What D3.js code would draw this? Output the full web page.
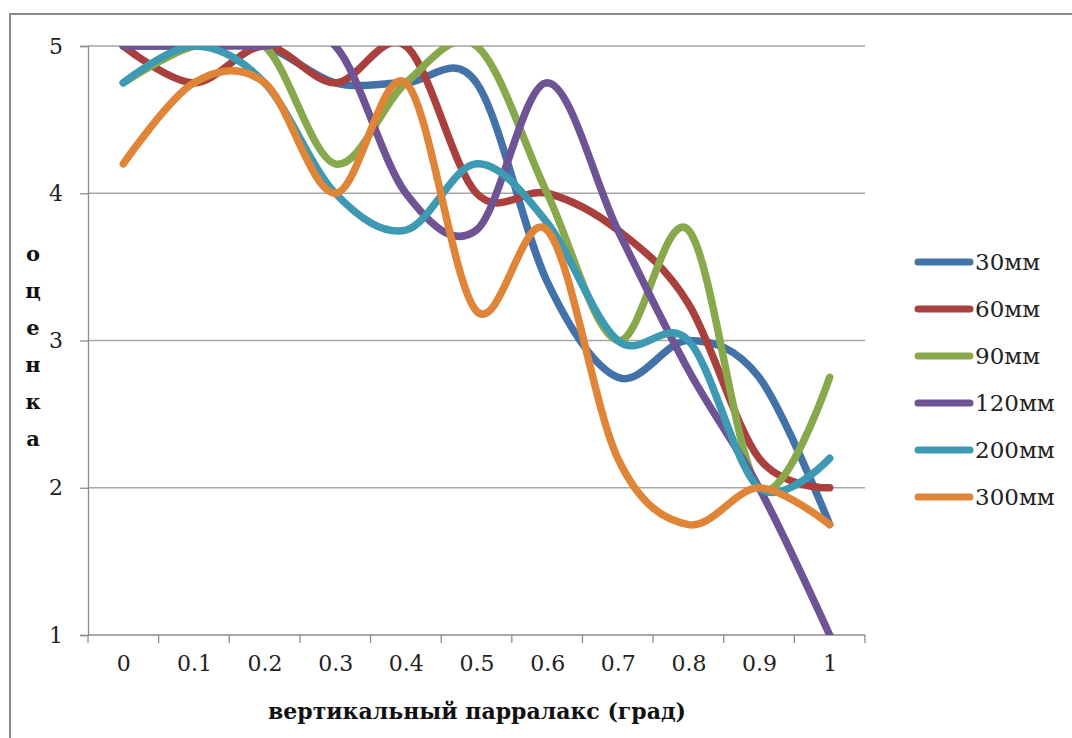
<!DOCTYPE html>
<html>
<head>
<meta charset="utf-8">
<script src="https://cdn.jsdelivr.net/npm/d3@7"></script>
<style>
  html, body { margin: 0; padding: 0; background: #fff; }
  svg { display: block; }
</style>
</head>
<body>
<svg id="chart" width="1072" height="738"></svg>
<script>
// Vertical parallax (deg) categories
const categories = ["0", "0.1", "0.2", "0.3", "0.4", "0.5", "0.6", "0.7", "0.8", "0.9", "1"];

// Mean score per base length
const s30  = [5, 5, 5, 4.75, 4.75, 4.75, 3.4, 2.75, 3, 2.75, 1.75];
const s60  = [5, 4.75, 5, 4.75, 5, 4, 4, 3.75, 3.25, 2.2, 2];
const s90  = [4.75, 5, 5, 4.2, 4.75, 5, 4, 3, 3.75, 2, 2.75];
const s120 = [5, 5, 5, 5, 4, 3.75, 4.75, 3.75, 2.8, 2, 1];
const s200 = [4.75, 5, 4.75, 4, 3.75, 4.2, 3.8, 3, 3, 2, 2.2];
const s300 = [4.2, 4.75, 4.75, 4, 4.75, 3.2, 3.75, 2.2, 1.75, 2, 1.75];

const seriesNames = ["30мм", "60мм", "90мм", "120мм", "200мм", "300мм"];
const seriesValues = [s30, s60, s90, s120, s200, s300];
const seriesColors = ["#4272A8", "#A9403E", "#87A84B", "#6E5494", "#3E9AB3", "#E08438"];

const yTicks = [1, 2, 3, 4, 5];
const xTitle = "вертикальный парралакс (град)";
const yTitle = ["о", "ц", "е", "н", "к", "а"];

const svg = d3.select("#chart");
const FONT = "'DejaVu Serif', 'Liberation Serif', serif";

const plot = { left: 88, right: 865, top: 46, bottom: 635 };

// chart frame
svg.append("rect")
  .attr("x", 10).attr("y", 14)
  .attr("width", 1100).attr("height", 760)
  .attr("fill", "#fff")
  .attr("stroke", "#8a8a8a").attr("stroke-width", 2);

const x = d3.scalePoint().domain(categories).range([plot.left, plot.right]).padding(0.5);
const y = d3.scaleLinear().domain([1, 5]).range([plot.bottom, plot.top]);
const step = x.step();

// horizontal gridlines
svg.append("g").selectAll("line")
  .data(yTicks.filter(d => d > 1))
  .join("line")
  .attr("x1", plot.left).attr("x2", plot.right)
  .attr("y1", d => y(d)).attr("y2", d => y(d))
  .attr("stroke", "#a6a6a6").attr("stroke-width", 1.3);

// y axis
const yAxis = svg.append("g")
  .attr("transform", `translate(${plot.left},0)`)
  .call(d3.axisLeft(y).tickValues(yTicks).tickSize(8).tickPadding(17).tickFormat(d3.format("d")));
yAxis.select(".domain").attr("stroke", "#8c8c8c").attr("stroke-width", 1.3);
yAxis.selectAll(".tick line").attr("stroke", "#8c8c8c").attr("stroke-width", 1.3);
yAxis.selectAll(".tick text")
  .attr("font-family", FONT).attr("font-size", 22).attr("fill", "#222");

// x axis: labels at category centres, ticks on category boundaries
const xAxis = svg.append("g")
  .attr("transform", `translate(0,${plot.bottom})`)
  .call(d3.axisBottom(x).tickSize(0).tickPadding(20));
xAxis.select(".domain").remove();
xAxis.selectAll(".tick text")
  .attr("font-family", FONT).attr("font-size", 22).attr("fill", "#222");
svg.append("line")
  .attr("x1", plot.left).attr("x2", plot.right)
  .attr("y1", plot.bottom).attr("y2", plot.bottom)
  .attr("stroke", "#8c8c8c").attr("stroke-width", 1.3);
const bounds = categories.map(c => x(c) - step / 2).concat([x(categories[categories.length - 1]) + step / 2]);
svg.append("g").selectAll("line")
  .data(bounds)
  .join("line")
  .attr("x1", d => d).attr("x2", d => d)
  .attr("y1", plot.bottom).attr("y2", plot.bottom + 8)
  .attr("stroke", "#8c8c8c").attr("stroke-width", 1.3);

// axis titles
svg.append("text")
  .attr("x", 477).attr("y", 719)
  .attr("text-anchor", "middle")
  .attr("font-family", FONT).attr("font-weight", "bold").attr("font-size", 22)
  .attr("fill", "#111")
  .text(xTitle);

svg.append("g").selectAll("text")
  .data(yTitle)
  .join("text")
  .attr("x", 33)
  .attr("y", (d, i) => 261 + i * 37)
  .attr("text-anchor", "middle")
  .attr("font-family", FONT).attr("font-weight", "bold").attr("font-size", 21)
  .attr("fill", "#111")
  .text(d => d);

// smoothed series lines, clipped to the plot area
svg.append("clipPath").attr("id", "plot-clip")
  .append("rect")
  .attr("x", plot.left).attr("y", plot.top)
  .attr("width", plot.right - plot.left).attr("height", plot.bottom - plot.top);

const line = d3.line()
  .x((d, i) => x(categories[i]))
  .y(d => y(d))
  .curve(d3.curveCardinal.tension(0));

svg.append("g").attr("clip-path", "url(#plot-clip)")
  .selectAll("path")
  .data(seriesValues)
  .join("path")
  .attr("d", d => line(d))
  .attr("fill", "none")
  .attr("stroke", (d, i) => seriesColors[i])
  .attr("stroke-width", 7.5)
  .attr("stroke-linecap", "round")
  .attr("stroke-linejoin", "round");

// legend
const legend = svg.append("g").selectAll("g")
  .data(seriesNames)
  .join("g")
  .attr("transform", (d, i) => `translate(918,${262 + i * 47})`);
legend.append("line")
  .attr("x1", 0).attr("x2", 52)
  .attr("stroke", (d, i) => seriesColors[i])
  .attr("stroke-width", 7)
  .attr("stroke-linecap", "round");
legend.append("text")
  .attr("x", 57).attr("dy", "0.36em")
  .attr("font-family", FONT).attr("font-size", 23).attr("fill", "#222")
  .text(d => d);
</script>
</body>
</html>
